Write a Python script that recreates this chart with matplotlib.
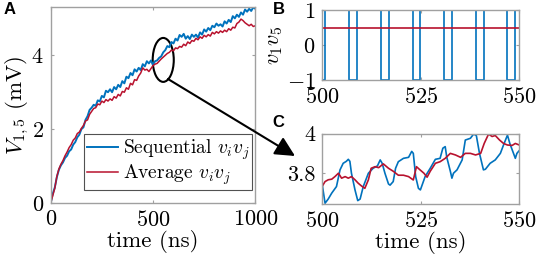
import numpy as np
import matplotlib
matplotlib.use('Agg')
from matplotlib import pyplot as plt
from matplotlib.patches import Ellipse

plt.rcParams['font.family'] = 'serif'
plt.rcParams['font.serif'] = ['cmr10']
plt.rcParams['mathtext.fontset'] = 'cm'
plt.rcParams['axes.formatter.use_mathtext'] = True

# panel A: V_1,5 vs time, sampled every 10 ns
t_full = np.arange(0, 1001, 10)
v_seq = [0.00, 0.25, 0.42, 0.70, 0.90, 1.02, 1.10, 1.22, 1.28, 1.40,
         1.45, 1.58, 1.65, 1.78, 1.85, 2.00, 2.05, 2.25, 2.35, 2.52,
         2.58, 2.66, 2.63, 2.78, 2.75, 2.90, 2.86, 3.04, 3.00, 3.08,
         3.00, 3.14, 3.08, 3.20, 3.14, 3.30, 3.24, 3.42, 3.38, 3.52,
         3.46, 3.62, 3.56, 3.66, 3.60, 3.76, 3.70, 3.84, 3.78, 3.86,
         3.74, 3.84, 3.86, 3.93, 3.97, 4.08, 4.14, 4.25, 4.22, 4.36,
         4.32, 4.45, 4.40, 4.55, 4.50, 4.58, 4.45, 4.52, 4.44, 4.56,
         4.50, 4.56, 4.48, 4.62, 4.56, 4.70, 4.64, 4.74, 4.68, 4.80,
         4.76, 4.86, 4.80, 4.84, 4.78, 4.92, 4.86, 4.96, 4.90, 5.06,
         5.00, 5.10, 5.04, 5.16, 5.10, 5.24, 5.18, 5.26, 5.20, 5.30,
         5.26]
v_avg = [0.00, 0.20, 0.40, 0.72, 0.92, 1.05, 1.15, 1.28, 1.38, 1.50,
         1.58, 1.70, 1.76, 1.88, 1.92, 2.02, 2.10, 2.22, 2.25, 2.40,
         2.48, 2.56, 2.58, 2.68, 2.66, 2.76, 2.72, 2.80, 2.76, 2.82,
         2.78, 2.88, 2.84, 2.94, 2.90, 3.02, 3.00, 3.12, 3.08, 3.24,
         3.20, 3.34, 3.32, 3.44, 3.52, 3.66, 3.60, 3.62, 3.56, 3.64,
         3.72, 3.76, 3.78, 3.84, 3.90, 3.95, 4.00, 4.05, 4.08, 4.14,
         4.12, 4.20, 4.18, 4.24, 4.22, 4.30, 4.26, 4.36, 4.32, 4.40,
         4.38, 4.46, 4.42, 4.50, 4.46, 4.54, 4.50, 4.56, 4.52, 4.62,
         4.58, 4.64, 4.60, 4.66, 4.62, 4.68, 4.64, 4.72, 4.68, 4.76,
         4.74, 4.86, 4.90, 4.98, 4.94, 4.88, 4.84, 4.80, 4.84, 4.78,
         4.80]

# panel B: v1*v5 switching between -1 and 1
switch_t = [500, 500.8, 506.9, 508.9, 514.9, 516.9, 522.9, 524.9,
            530.9, 532.9, 539.0, 541.0, 546.9, 548.9, 550]
switch_v = [-1, 1, -1, 1, -1, 1, -1, 1, -1, 1, -1, 1, -1, 1, 1]
avg_t = [500, 550]
avg_v = [0.5, 0.5]

# panel C: zoom of A between 500 and 550 ns
tc_seq = [500.0, 500.7, 501.5, 502.4, 503.6, 504.5, 505.3, 506.1, 506.6, 507.0,
          507.4, 508.3, 509.0, 509.6, 510.4, 511.7, 512.9, 514.0, 514.7, 515.2,
          515.9, 516.8, 517.2, 518.0, 518.6, 519.3, 520.6, 521.9, 522.7, 523.1,
          523.7, 524.4, 524.9, 526.1, 527.4, 528.7, 529.9, 530.6, 531.2, 531.6,
          532.5, 532.9, 533.3, 534.2, 535.5, 536.3, 537.6, 538.4, 539.1, 539.9,
          540.9, 541.4, 542.6, 543.9, 545.2, 546.0, 547.0, 547.6, 549.0, 549.4,
          550.0]
vc_seq = [3.741, 3.649, 3.670, 3.700, 3.733, 3.817, 3.850, 3.860, 3.870, 3.860,
          3.800, 3.716, 3.662, 3.670, 3.733, 3.800, 3.825, 3.837, 3.867, 3.850,
          3.800, 3.746, 3.740, 3.758, 3.825, 3.858, 3.875, 3.880, 3.910, 3.900,
          3.783, 3.724, 3.716, 3.783, 3.825, 3.870, 3.875, 3.926, 3.934, 3.880,
          3.810, 3.775, 3.800, 3.817, 3.867, 3.967, 3.976, 3.997, 3.990, 3.900,
          3.817, 3.820, 3.850, 3.867, 3.900, 3.942, 3.992, 3.950, 3.875, 3.900,
          3.914]
tc_avg = [500.0, 500.7, 501.5, 502.4, 503.2, 504.1, 504.9, 505.8, 506.6, 507.4,
          508.3, 509.1, 510.0, 510.8, 511.7, 512.4, 513.4, 514.3, 515.5, 516.8,
          518.0, 519.3, 520.6, 521.9, 523.1, 523.9, 524.8, 525.8, 526.6, 527.4,
          528.7, 529.9, 531.2, 532.5, 533.8, 535.1, 536.3, 537.6, 538.9, 540.2,
          541.1, 542.2, 543.1, 543.9, 545.0, 546.0, 547.0, 548.2, 549.0, 550.0]
vc_avg = [3.735, 3.758, 3.767, 3.770, 3.783, 3.800, 3.775, 3.783, 3.775, 3.783,
          3.767, 3.750, 3.735, 3.724, 3.767, 3.825, 3.833, 3.828, 3.847, 3.825,
          3.810, 3.790, 3.790, 3.783, 3.766, 3.833, 3.817, 3.800, 3.780, 3.810,
          3.850, 3.858, 3.875, 3.900, 3.892, 3.880, 3.900, 3.900, 3.892, 3.900,
          3.950, 3.997, 3.985, 3.990, 3.967, 3.950, 3.942, 3.940, 3.950, 3.942]

blue = '#0072BD'
red = '#B8122E'
grey = '#a0a0a0'


def style(ax):
    for s in ax.spines.values():
        s.set_color(grey)
        s.set_linewidth(1.0)
    ax.tick_params(direction='in', top=True, right=True, length=2.5,
                   color=grey, labelsize=16, pad=5)


fig = plt.figure(figsize=(5.36, 2.69), dpi=100)

axA = fig.add_axes([0.0946, 0.2454, 0.3817, 0.7275])
axA.plot(t_full, v_seq, color=blue, lw=1.4, label='Sequential $v_iv_j$')
axA.plot(t_full, v_avg, color=red, lw=1.1, label='Average $v_iv_j$')
axA.set_xlim(0, 1000)
axA.set_ylim(0, 5.3)
axA.set_xticks([0, 500, 1000])
axA.set_yticks([0, 2, 4])
axA.set_xlabel('time (ns)', fontsize=16.5, labelpad=0)
axA.set_ylabel('$V_{1,5}$ (mV)', fontsize=16.5)
axA.yaxis.set_label_coords(-0.095, 0.5)
style(axA)
leg = axA.legend(loc='lower right', bbox_to_anchor=(0.985, 0.065), fontsize=14,
                 fancybox=False, handlelength=1.6, handletextpad=0.25,
                 borderpad=0.15, labelspacing=0.05, borderaxespad=0)
leg.get_frame().set_edgecolor('#262626')
leg.get_frame().set_linewidth(0.8)
axA.add_patch(Ellipse((550, 3.875), 103, 1.19, fill=False, ec='k', lw=1.5))

axB = fig.add_axes([0.6013, 0.7026, 0.3675, 0.2602])
axB.step(switch_t, switch_v, where='post', color=blue, lw=1.2)
axB.plot(avg_t, avg_v, color=red, lw=1.2)
axB.set_xlim(500, 550)
axB.set_ylim(-1, 1)
axB.set_xticks([500, 525, 550])
axB.set_yticks([-1, 0, 1])
axB.set_ylabel('$v_1v_5$', fontsize=16, labelpad=1)
style(axB)

axC = fig.add_axes([0.6013, 0.2416, 0.3675, 0.2621])
axC.plot(tc_seq, vc_seq, color=blue, lw=1.2)
axC.plot(tc_avg, vc_avg, color=red, lw=1.2)
axC.set_xlim(500, 550)
axC.set_ylim(3.645, 4.0)
axC.set_xticks([500, 525, 550])
axC.set_yticks([3.8, 4])
axC.set_yticklabels(['3.8', '4'])
axC.set_xlabel('time (ns)', fontsize=16.5, labelpad=0)
style(axC)

axA.annotate('', xy=(0.5504, 0.4201), xytext=(0.3134, 0.7063),
             xycoords='figure fraction', textcoords='figure fraction',
             annotation_clip=False,
             arrowprops=dict(arrowstyle='-|>,head_length=0.8,head_width=0.4',
                             mutation_scale=15, lw=1.5, color='k',
                             shrinkA=0, shrinkB=0))

for lab, x, y in [('A', 0.006, 0.965), ('B', 0.509, 0.965), ('C', 0.509, 0.543)]:
    fig.text(x, y, lab, fontsize=12, fontweight='bold',
             family='Liberation Sans', va='center')

fig.savefig('out.png', dpi=100)
